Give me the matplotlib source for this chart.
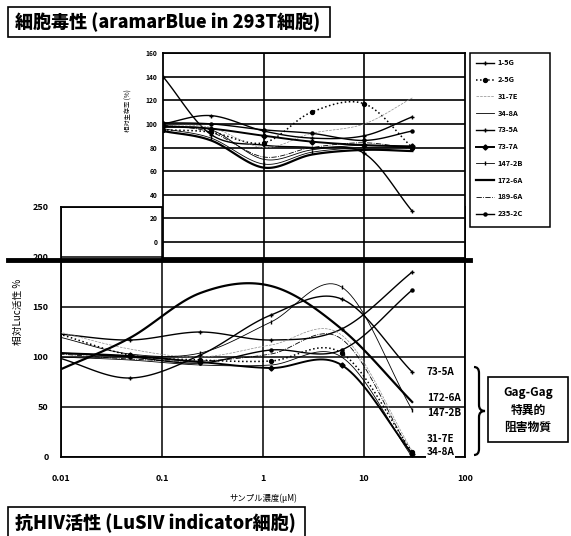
import numpy as np
import matplotlib.pyplot as plt
from matplotlib.lines import Line2D
from matplotlib.patches import Rectangle, PathPatch
from matplotlib.path import Path

plt.rcParams['font.family'] = ['Noto Sans CJK JP', 'DejaVu Sans']
plt.rcParams['font.weight'] = 'bold'

# sample names (same order as the legend)
names = ['1-5G', '2-5G', '31-7E', '34-8A', '73-5A', '73-7A', '147-2B', '172-6A', '189-6A', '235-2C']

# cytotoxicity (aramarBlue), relative viability %
conc_tox = [0.1, 0.3, 1, 3, 10, 30]
tox_1_5G = [140, 91, 82, 80, 75, 26]
tox_2_5G = [95, 93, 84, 110, 117, 80]
tox_31_7E = [99, 97, 80, 92, 100, 122]
tox_34_8A = [97, 95, 70, 78, 82, 80]
tox_73_5A = [100, 107, 94, 88, 90, 106]
tox_73_7A = [98, 96, 90, 85, 82, 81]
tox_147_2B = [96, 88, 66, 76, 80, 80]
tox_172_6A = [94, 86, 63, 74, 78, 77]
tox_189_6A = [99, 93, 72, 80, 84, 79]
tox_235_2C = [101, 100, 95, 92, 86, 94]

# anti-HIV activity (LuSIV), relative Luc activity %
conc_luc = [0.0096, 0.048, 0.24, 1.2, 6, 30]
luc_1_5G = [123, 117, 125, 117, 128, 185]
luc_2_5G = [123, 102, 97, 96, 104, 5]
luc_31_7E = [125, 108, 100, 112, 122, 6]
luc_34_8A = [100, 97, 92, 92, 100, 0]
luc_73_5A = [99, 79, 102, 142, 158, 85]
luc_73_7A = [104, 101, 95, 89, 92, 3]
luc_147_2B = [120, 103, 104, 135, 170, 47]
luc_172_6A = [87, 119, 164, 171, 128, 55]
luc_189_6A = [103, 98, 96, 103, 118, 2]
luc_235_2C = [104, 100, 94, 107, 107, 167]

tox_series = [tox_1_5G, tox_2_5G, tox_31_7E, tox_34_8A, tox_73_5A,
              tox_73_7A, tox_147_2B, tox_172_6A, tox_189_6A, tox_235_2C]
luc_series = [luc_1_5G, luc_2_5G, luc_31_7E, luc_34_8A, luc_73_5A,
              luc_73_7A, luc_147_2B, luc_172_6A, luc_189_6A, luc_235_2C]

# line style per sample: (linestyle, linewidth, marker, markersize, color)
styles = [
    ('-', 1.0, '+', 3.5, 'black'),
    (':', 1.1, 'o', 2.8, 'black'),
    ('--', 0.5, '', 0, '0.55'),
    ('-', 0.6, '', 0, 'black'),
    ('-', 1.0, '+', 3.5, 'black'),
    ('-', 1.4, 'D', 2.6, 'black'),
    ('-', 0.6, '|', 3.0, 'black'),
    ('-', 1.6, '', 0, 'black'),
    ('-.', 0.6, '', 0, 'black'),
    ('-', 1.0, 'o', 2.2, 'black'),
]

right_labels = ['73-5A', '172-6A', '147-2B', '31-7E', '34-8A']
right_label_y = [85, 59, 44, 18, 5]


# Excel style smoothed line (Catmull-Rom in log-x space)
def smooth(xs, ys, n=24):
    P = np.column_stack([np.log10(xs), np.asarray(ys, float)])
    P = np.vstack([2 * P[0] - P[1], P, 2 * P[-1] - P[-2]])
    t = np.linspace(0, 1, n)[:, None]
    parts = []
    for i in range(1, len(P) - 2):
        p0, p1, p2, p3 = P[i - 1], P[i], P[i + 1], P[i + 2]
        seg = 0.5 * (2 * p1 + (-p0 + p2) * t + (2 * p0 - 5 * p1 + 4 * p2 - p3) * t ** 2
                     + (-p0 + 3 * p1 - 3 * p2 + p3) * t ** 3)
        parts.append(seg if i == 1 else seg[1:])
    c = np.vstack(parts)
    return 10 ** c[:, 0], c[:, 1]


def draw(ax, xs, ys, st):
    ls, lw, mk, ms, col = st
    sx, sy = smooth(xs, ys)
    ax.plot(sx, sy, linestyle=ls, lw=lw, color=col, zorder=3)
    if mk:
        ax.plot(xs, ys, linestyle='none', marker=mk, ms=ms, color=col, mew=1.0, zorder=4)
    return Line2D([], [], linestyle=ls, lw=lw, color=col, marker=mk, ms=ms, mew=1.0)


W, H = 571, 536
fig = plt.figure(figsize=(W / 100, H / 100), dpi=100)
fig.patch.set_facecolor('white')


def fx(px):
    return px / W


def fy(py):
    return 1 - py / H


def box(x0, y0, x1, y1, lw=1.2):
    fig.add_artist(Rectangle((fx(x0), fy(y1)), fx(x1) - fx(x0), fy(y0) - fy(y1),
                             transform=fig.transFigure, fc='white', ec='black', lw=lw, zorder=8))


# ---- bottom chart: anti-HIV activity
ax = fig.add_axes([fx(61), fy(457), fx(404), 250 / H])
ax.set_xscale('log')
ax.set_xlim(0.01, 100)
ax.set_ylim(0, 250)
ax.set_xticks([0.01, 0.1, 1, 10, 100])
ax.set_xticklabels(['0.01', '0.1', '1', '10', '100'])
ax.minorticks_off()
ax.set_yticks([0, 50, 100, 150, 200, 250])
ax.tick_params(length=0, labelsize=6.5)
ax.tick_params(axis='x', pad=12)
ax.tick_params(axis='y', pad=9)
ax.grid(True, color='black', lw=1.1)
for sp in ax.spines.values():
    sp.set_linewidth(1.3)
for ys, st in zip(luc_series, styles):
    draw(ax, conc_luc, ys, st)
ax.set_xlabel('サンプル濃度(μM)', fontsize=6, labelpad=8)
ax.set_ylabel('相対Luc活性 %', fontsize=7, labelpad=6)
ax.yaxis.set_label_coords(-0.095, 0.58)
for lab, yv in zip(right_labels, right_label_y):
    ax.text(42, yv, lab, fontsize=7.2, ha='left', va='center', zorder=6,
            bbox=dict(boxstyle='square,pad=0.05', fc='white', ec='none'))

# ---- top chart: cytotoxicity
ax2 = fig.add_axes([fx(163), fy(258), fx(302), 205 / H], zorder=5)
ax2.set_facecolor('white')
ax2.set_xscale('log')
ax2.set_xlim(0.1, 100)
ax2.set_ylim(-13.5, 160)
ax2.set_xticks([1, 10])
ax2.set_xticklabels([])
ax2.minorticks_off()
ax2.set_yticks(range(0, 161, 20))
ax2.tick_params(length=0, labelsize=4.8, pad=4)
ax2.grid(True, color='black', lw=1.2)
for sp in ax2.spines.values():
    sp.set_linewidth(1.3)
handles = []
for ys, st in zip(tox_series, styles):
    handles.append(draw(ax2, conc_tox, ys, st))
ax2.set_ylabel('相対生存率 (%)', fontsize=4.5, labelpad=5)
ax2.yaxis.set_label_coords(-0.1, 0.72)

# legend in its own fixed frame
box(470, 53, 550, 227, lw=1.1)
leg = fig.legend(handles, names, loc='upper left', bbox_to_anchor=(fx(470), fy(53)),
                 fontsize=5.4, frameon=False, handlelength=2.3, labelspacing=1.3,
                 borderpad=0.35, handletextpad=0.5)
leg.set_zorder(9)

# thick separator line between the two charts
fig.add_artist(Line2D([fx(8), fx(470)], [fy(260)] * 2, transform=fig.transFigure,
                      lw=3.5, color='black', zorder=10))

# titles
box(8, 7, 330, 37)
fig.text(fx(15), fy(22), '細胞毒性 (aramarBlue in 293T細胞)', fontsize=13, va='center',
         fontweight='heavy', zorder=9)
box(8, 507, 305, 545)
fig.text(fx(15), fy(523), '抗HIV活性 (LuSIV indicator細胞)', fontsize=13, va='center',
         fontweight='heavy', zorder=9)

# brace
brace = [(474, 367), (479, 367), (479, 373), (479, 405), (479, 411), (485, 411),
         (479, 411), (479, 417), (479, 449), (479, 455), (474, 455)]
codes = [Path.MOVETO, Path.CURVE3, Path.CURVE3, Path.LINETO, Path.CURVE3, Path.CURVE3,
         Path.CURVE3, Path.CURVE3, Path.LINETO, Path.CURVE3, Path.CURVE3]
fig.add_artist(PathPatch(Path([(fx(a), fy(b)) for a, b in brace], codes),
                         transform=fig.transFigure, fc='none', ec='black', lw=1.6))

# annotation box
box(488, 377, 568, 442)
fig.text(fx(528), fy(410), 'Gag-Gag\n特異的\n阻害物質', fontsize=8.5, ha='center', va='center',
         linespacing=1.45, zorder=9)

fig.savefig('out.png', dpi=100, facecolor='white')
